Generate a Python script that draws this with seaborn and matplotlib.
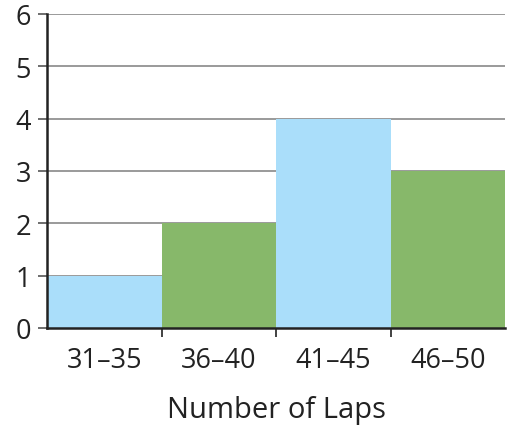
import matplotlib
matplotlib.use("Agg")
import matplotlib.pyplot as plt
import seaborn as sns
import numpy as np

categories = ["31–35", "36–40", "41–45", "46–50"]
counts = [1, 2, 4, 3]
bar_colors = ["#aadefa", "#87b86a", "#aadefa", "#87b86a"]
y_ticks = [0, 1, 2, 3, 4, 5, 6]
x_label = "Number of Laps"

sns.set_style("white")
plt.rcParams["font.family"] = ["Open Sans", "DejaVu Sans"]

fig = plt.figure(figsize=(5.11, 4.27), dpi=100)
ax = fig.add_axes([47/511, 98/427, 458/511, 314/427])

sns.barplot(x=categories, y=counts, hue=categories, palette=bar_colors,
            legend=False, width=1.0, ax=ax, saturation=1, linewidth=0, zorder=2)

ax.set_xlim(-0.5, 3.5)
ax.set_ylim(0, 6)
ax.set_yticks(y_ticks)
ax.yaxis.grid(True, color="#9a9a9a", linewidth=1.4)
ax.set_axisbelow(True)
for gl in ax.get_ygridlines():
    gl.set_zorder(0.5)

for s in ["top", "right"]:
    ax.spines[s].set_visible(False)
for s in ["left", "bottom"]:
    ax.spines[s].set_color("#222222")
    ax.spines[s].set_linewidth(1.8)
    ax.spines[s].set_zorder(3)

ax.tick_params(axis="y", which="major", direction="out", length=6.5, width=1.2,
               color="#555555", labelsize=19.5, labelcolor="#222222", pad=5, left=True)
ax.tick_params(axis="x", which="major", length=0, labelsize=19.5,
               labelcolor="#222222", pad=13)
ax.set_xticks([0.5, 1.5, 2.5], minor=True)
ax.tick_params(axis="x", which="minor", direction="inout", length=13, width=1.2,
               color="#222222", bottom=True)

ax.set_xlabel(x_label, fontsize=21, color="#222222", labelpad=15)
ax.set_ylabel("")

fig.savefig("out.png", dpi=100)
